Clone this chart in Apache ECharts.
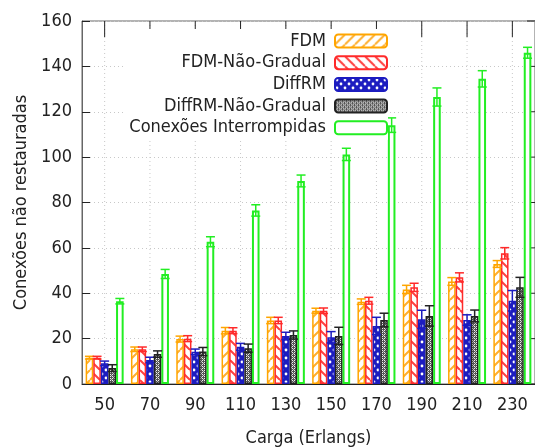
<!DOCTYPE html>
<html lang="pt">
<head>
<meta charset="UTF-8">
<style>
html, body { height: 100%; margin: 0; background: #fff; }
#chart { width: 535px; height: 447px; }
</style>
</head>
<body>
<div id="chart"></div>
<script src="https://cdn.jsdelivr.net/npm/echarts@6/dist/echarts.min.js"></script>
<script>
// data
var categories = ['50', '70', '90', '110', '130', '150', '170', '190', '210', '230'];
var fdm          = [11.6, 15.3, 19.8, 23.5, 28.0, 32.3, 36.3, 41.7, 45.2, 52.9];
var fdmErr       = [0.6, 1.0, 1.3, 1.4, 1.4, 1.1, 1.2, 1.8, 1.7, 1.5];
var fdmNG        = [11.6, 15.3, 20.0, 23.5, 28.0, 32.3, 36.7, 42.6, 47.0, 57.6];
var fdmNGErr     = [0.6, 1.0, 1.3, 1.3, 1.4, 1.2, 1.5, 1.8, 2.0, 2.5];
var diffrm       = [9.1, 10.6, 14.2, 16.4, 21.2, 20.6, 25.6, 28.5, 28.2, 36.7];
var diffrmErr    = [1.0, 1.2, 1.2, 1.5, 1.6, 2.5, 3.8, 4.0, 2.3, 4.5];
var diffrmNG     = [7.0, 13.2, 14.3, 15.8, 21.6, 21.2, 28.2, 30.0, 30.0, 42.6];
var diffrmNGErr  = [1.5, 1.4, 1.8, 1.8, 1.8, 3.8, 3.0, 4.5, 2.6, 4.4];
var interrompidas    = [36.5, 48.5, 62.7, 76.5, 89.5, 101.2, 114.1, 126.5, 134.5, 146.0];
var interrompidasErr = [1.2, 2.0, 2.2, 2.5, 2.6, 2.7, 3.2, 4.0, 3.6, 2.4];
var yTicks = [0, 20, 40, 60, 80, 100, 120, 140, 160];
var seriesNames = ['FDM', 'FDM-Não-Gradual', 'DiffRM', 'DiffRM-Não-Gradual', 'Conexões Interrompidas'];

var FONT = "'DejaVu Sans Condensed', 'DejaVu Sans', sans-serif";
var FS = 18;
var BAR_W = 7.6;

function tile(size, draw) {
    var c = document.createElement('canvas');
    c.width = size; c.height = size;
    var ctx = c.getContext('2d');
    draw(ctx, size);
    return { image: c, repeat: 'repeat' };
}

function hatch(color, forward) {
    return tile(10, function (ctx, s) {
        ctx.fillStyle = '#fff';
        ctx.fillRect(0, 0, s, s);
        ctx.strokeStyle = color;
        ctx.lineWidth = 2;
        ctx.beginPath();
        for (var k = -1; k <= 1; k++) {
            if (forward) {
                ctx.moveTo(k * s, s); ctx.lineTo(k * s + s, 0);
            } else {
                ctx.moveTo(k * s, 0); ctx.lineTo(k * s + s, s);
            }
        }
        ctx.stroke();
    });
}

var blueDots = tile(8, function (ctx, s) {
    ctx.fillStyle = '#1c1cc0';
    ctx.fillRect(0, 0, s, s);
    ctx.fillStyle = '#fff';
    ctx.beginPath(); ctx.arc(2, 2, 1.4, 0, Math.PI * 2); ctx.fill();
    ctx.beginPath(); ctx.arc(6, 6, 1.4, 0, Math.PI * 2); ctx.fill();
});

var greyCheck = tile(4, function (ctx, s) {
    ctx.fillStyle = '#555';
    ctx.fillRect(0, 0, s, s);
    ctx.fillStyle = '#f0f0f0';
    ctx.fillRect(0, 0, 1, 1);
    ctx.fillRect(2, 2, 1, 1);
    ctx.fillRect(2, 0, 1, 1);
    ctx.fillRect(0, 2, 1, 1);
    ctx.fillStyle = '#bbb';
    ctx.fillRect(1, 1, 1, 1);
    ctx.fillRect(3, 3, 1, 1);
});

var lineColors = ['#ffa500', '#ff2a2a', '#1c1cc0', '#222222', '#22ee22'];
var fills = [hatch('#ffb030', true), hatch('#ff4040', false), blueDots, greyCheck, '#ffffff'];
var values = [fdm, fdmNG, diffrm, diffrmNG, interrompidas];
var errors = [fdmErr, fdmNGErr, diffrmErr, diffrmNGErr, interrompidasErr];

var series = [];

// vertical dotted grid on category centres, inward ticks on top and right border
series.push({
    name: 'frame',
    type: 'custom',
    silent: true,
    z: 1,
    data: categories.map(function (c, k) { return [k, 0]; }),
    renderItem: function (params, api) {
        var cs = params.coordSys;
        var x = api.coord([api.value(0), 0])[0];
        var children = [
            { type: 'line', shape: { x1: x, y1: cs.y, x2: x, y2: cs.y + cs.height },
              style: { stroke: '#c8c8c8', lineWidth: 1, lineDash: [1, 3] } },
            { type: 'line', shape: { x1: x, y1: cs.y, x2: x, y2: cs.y + 16 },
              style: { stroke: '#222', lineWidth: 1 } }
        ];
        if (params.dataIndex === 0) {
            var xr = cs.x + cs.width;
            yTicks.forEach(function (v) {
                var y = api.coord([0, v])[1];
                children.push({ type: 'line', shape: { x1: xr - 8, y1: y, x2: xr, y2: y },
                    style: { stroke: '#222', lineWidth: 1 } });
            });
        }
        return { type: 'group', children: children };
    }
});

for (var i = 0; i < 5; i++) {
    series.push({
        name: seriesNames[i],
        type: 'bar',
        barWidth: BAR_W,
        barGap: '0%',
        data: values[i],
        itemStyle: {
            color: fills[i],
            borderColor: lineColors[i],
            borderWidth: i === 4 ? 2 : 1.5
        },
        emphasis: { disabled: true }
    });
}
for (var j = 0; j < 5; j++) {
    (function (si) {
        var errData = values[si].map(function (v, k) {
            return [k, v - errors[si][k], v + errors[si][k]];
        });
        series.push({
            name: 'err' + si,
            type: 'custom',
            z: 3,
            data: errData,
            renderItem: function (params, api) {
                var lo = api.coord([api.value(0), api.value(1)]);
                var hi = api.coord([api.value(0), api.value(2)]);
                var cx = lo[0] + (si - 2) * BAR_W;
                var h = 4.5;
                var st = { stroke: lineColors[si], lineWidth: 1.5 };
                return {
                    type: 'group',
                    children: [
                        { type: 'line', shape: { x1: cx, y1: lo[1], x2: cx, y2: hi[1] }, style: st },
                        { type: 'line', shape: { x1: cx - h, y1: hi[1], x2: cx + h, y2: hi[1] }, style: st },
                        { type: 'line', shape: { x1: cx - h, y1: lo[1], x2: cx + h, y2: lo[1] }, style: st }
                    ]
                };
            }
        });
    })(j);
}

var myChart = echarts.init(document.getElementById('chart'), null, { renderer: 'canvas' });
myChart.setOption({
    animation: false,
    backgroundColor: '#fff',
    grid: {
        left: 82, right: 0, top: 21, bottom: 63,
        outerBoundsMode: 'none',
        containLabel: false,
        show: true,
        borderColor: '#666',
        borderWidth: 1,
        backgroundColor: 'transparent'
    },
    legend: {
        data: seriesNames,
        orient: 'vertical',
        align: 'right',
        right: 147,
        top: 29,
        padding: [3, 0, 3, 4],
        itemGap: 3.7,
        itemWidth: 52,
        itemHeight: 13,
        icon: 'roundRect',
        backgroundColor: '#fff',
        selectedMode: false,
        textStyle: { fontFamily: FONT, fontSize: FS, color: '#222', lineHeight: 18, padding: [0, 4, 0, 0] }
    },
    xAxis: {
        type: 'category',
        data: categories,
        name: 'Carga (Erlangs)',
        nameLocation: 'middle',
        nameGap: 45,
        nameTextStyle: { fontFamily: FONT, fontSize: FS, color: '#222' },
        axisLine: { lineStyle: { color: '#222', width: 1 } },
        axisTick: { show: false },
        axisLabel: { fontFamily: FONT, fontSize: FS, color: '#222', margin: 12 },
        splitLine: { show: false }
    },
    yAxis: {
        type: 'value',
        min: 0, max: 160, interval: 20,
        name: 'Conexões não restauradas',
        nameLocation: 'middle',
        nameGap: 52,
        nameTextStyle: { fontFamily: FONT, fontSize: FS, color: '#222' },
        axisLine: { show: true, lineStyle: { color: '#666', width: 1 } },
        axisTick: { show: true, inside: true, length: 8, lineStyle: { color: '#222' } },
        axisLabel: { fontFamily: FONT, fontSize: FS, color: '#222', margin: 10 },
        splitLine: { show: true, lineStyle: { color: '#c8c8c8', type: [1, 3] } }
    },
    series: series
});
</script>
</body>
</html>
